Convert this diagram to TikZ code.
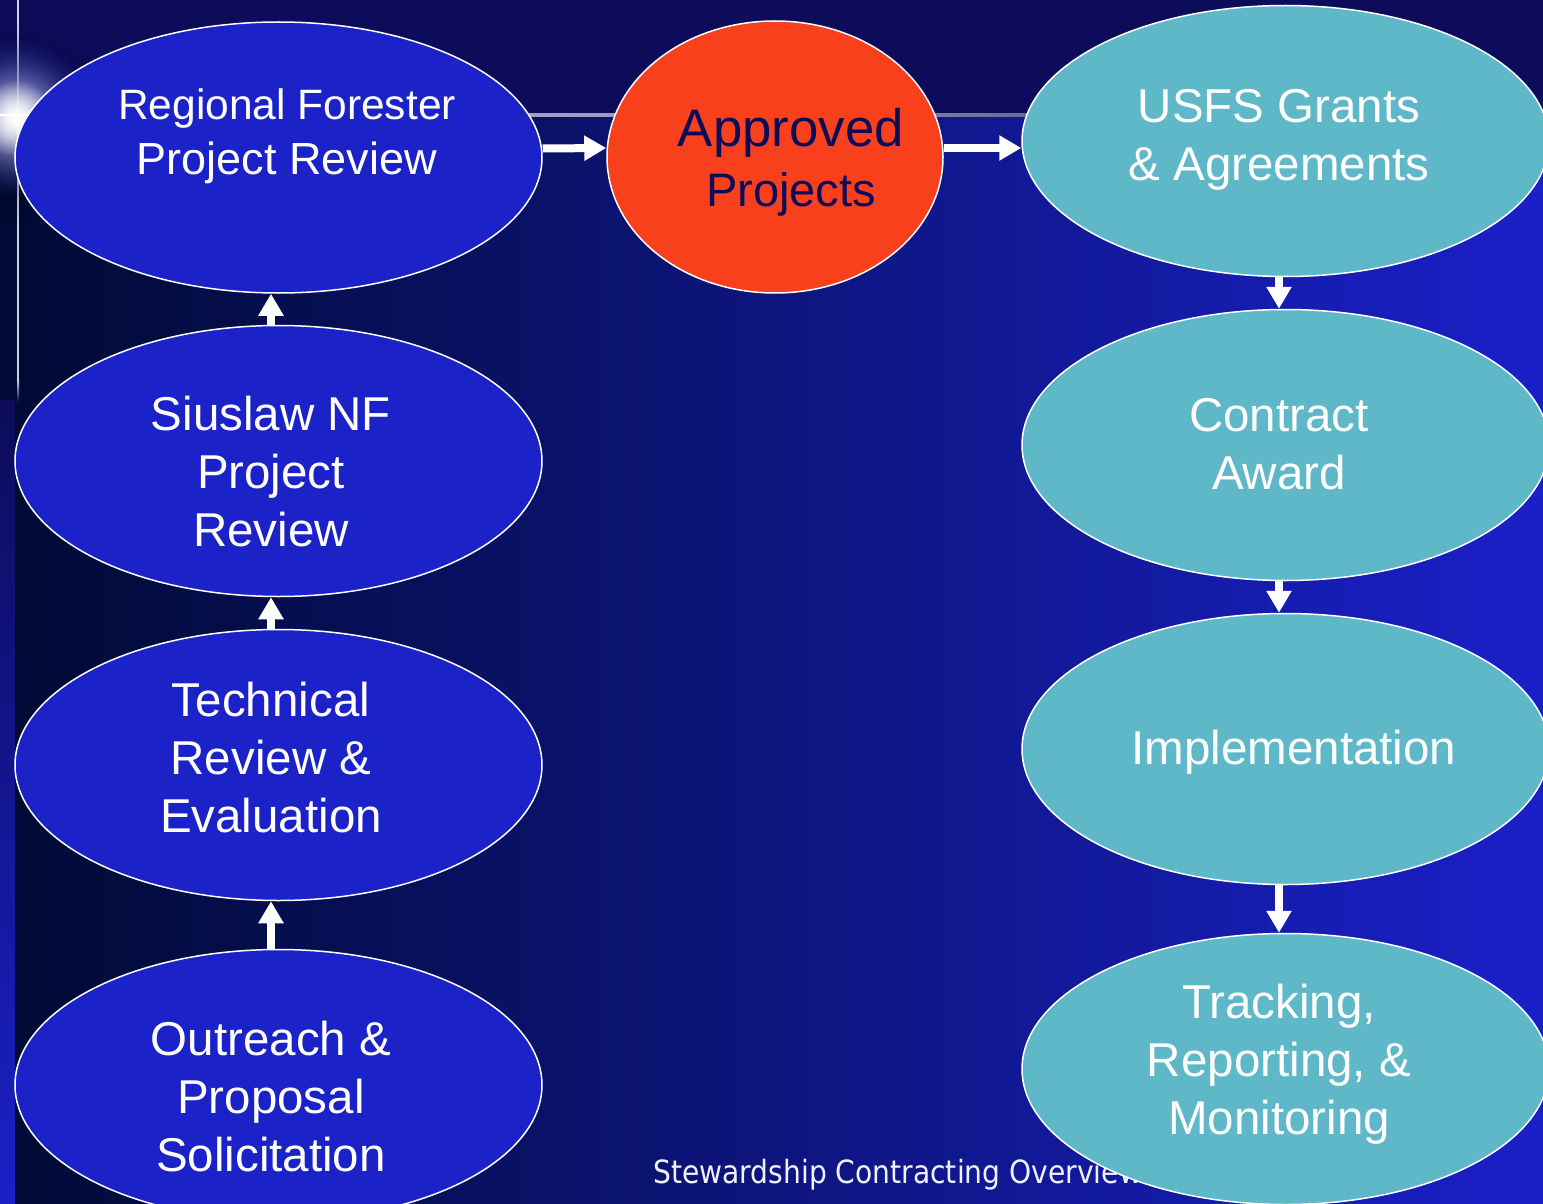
\documentclass[tikz,border=0pt]{standalone}
\usepackage{fontspec}
\setmainfont{Liberation Sans}
\newfontfamily\footfont[FakeStretch=0.88]{DejaVu Sans}
\usetikzlibrary{arrows.meta,shapes.geometric,fadings}
\definecolor{bgL}{HTML}{000A33}
\definecolor{bgR}{HTML}{1A20C8}
\definecolor{topband}{HTML}{0C0C5A}
\definecolor{ovalblue}{HTML}{1A22C8}
\definecolor{ovalorange}{HTML}{F8401C}
\definecolor{ovalcyan}{HTML}{5EB8C8}
\definecolor{navytext}{HTML}{0C0C5A}
\definecolor{linelight}{HTML}{D0D0E0}
\definecolor{linedark}{HTML}{28286E}
\definecolor{glowblue}{HTML}{2A34D8}
\tikzfading[name=glowfade, inner color=transparent!0, outer color=transparent!100]
\begin{document}
\begin{tikzpicture}[x=1pt,y=-1pt,
  oval/.style={ellipse, draw=white, line width=1.5pt, inner sep=0pt,
               minimum width=527pt, minimum height=271pt},
  bluefill/.style={oval, fill=ovalblue},
  cyanfill/.style={oval, fill=ovalcyan},
  orangefill/.style={ellipse, draw=white, line width=1.5pt, inner sep=0pt,
               minimum width=336pt, minimum height=272pt, fill=ovalorange},
  lbl/.style={align=center, text=white, inner sep=0pt},
  lblbig/.style={lbl, font=\fontsize{47.5}{58}\selectfont},
  blockarrow/.style={draw=white, line width=8pt,
               -{Triangle[length=22pt,width=24pt]}}]
\useasboundingbox (0,0) rectangle (1543,1204);
\clip (0,0) rectangle (1543,1204);
% background
\fill[left color=bgL, right color=bgR] (0,0) rectangle (1543,1204);
\fill[topband] (0,0) rectangle (1543,115);
\fill[top color=topband, bottom color=bgR] (0,400) rectangle (15,1204);
\fill[left color=linelight, right color=linedark, middle color=linelight!60!linedark] (0,114) rectangle (1543,116.5);
\fill[linelight] (17,0) rectangle (19,380);
\fill[top color=linelight, bottom color=bgL] (17,380) rectangle (19,402);
% glow
\fill[black!80!bgL, opacity=0.5, path fading=glowfade] (16,125) circle (100);
\shade[inner color=white, outer color=glowblue, path fading=glowfade] (16,118) circle (80);
\fill[white, path fading=glowfade] (16,118) circle (38);
\fill[white] (0,114) rectangle (40,116.5);
% footer
\node[anchor=base west, inner sep=0pt, text=white!94!blue, font=\footfont\fontsize{32}{38}\selectfont] (foot) at (653,1183) {Stewardship Contracting Overview};
% ovals
\node[bluefill] (reg) at (278.5,157.5) {};
\node[bluefill] (sius) at (278.5,461) {};
\node[bluefill] (tech) at (278.5,765) {};
\node[bluefill] (outr) at (278.5,1085) {};
\node[orangefill] (app) at (775,157) {};
\node[cyanfill] (usfs) at (1285.5,141) {};
\node[cyanfill] (cont) at (1285.5,445) {};
\node[cyanfill] (impl) at (1285.5,749) {};
\node[cyanfill] (track) at (1285.5,1069) {};
% labels
\node[lbl, font=\fontsize{42.5}{55}\selectfont] (regT) at (287,136) {Regional Forester\\{\fontsize{45}{55}\selectfont Project Review}};
\node[lblbig] (siusT) at (271,472) {Siuslaw NF\\Project\\Review};
\node[lblbig] (techT) at (271,758) {Technical\\Review \&\\Evaluation};
\node[lblbig] (outrT) at (271,1097) {Outreach \&\\Proposal\\Solicitation};
\node[lbl, text=navytext, font=\fontsize{52.8}{60}\selectfont] (appT) at (791,162) {Approved\\{\fontsize{47}{60}\selectfont Projects}};
\node[lblbig] (usfsT) at (1279,140) {USFS Grants\\\& Agreements};
\node[lblbig] (contT) at (1279,444) {Contract\\Award};
\node[lblbig] (implT) at (1294,752) {Implementation};
\node[lblbig] (trackT) at (1279,1064) {Tracking,\\Reporting, \&\\Monitoring};
% arrows
\draw[blockarrow] ([yshift=9pt]reg.east) -- ([yshift=9pt]app.west);
\draw[blockarrow] ([yshift=9pt]app.east) -- ([yshift=9pt]app.east -| usfs.west);
\draw[blockarrow] ([xshift=-7.5pt]sius.north) -- ([xshift=-7.5pt]reg.south);
\draw[blockarrow] ([xshift=-7.5pt]tech.north) -- ([xshift=-7.5pt]sius.south);
\draw[blockarrow] ([xshift=-7.5pt]outr.north) -- ([xshift=-7.5pt]tech.south);
\draw[blockarrow] ([xshift=-6.5pt]usfs.south) -- ([xshift=-6.5pt]cont.north);
\draw[blockarrow] ([xshift=-6.5pt]cont.south) -- ([xshift=-6.5pt]impl.north);
\draw[blockarrow] ([xshift=-6.5pt]impl.south) -- ([xshift=-6.5pt]track.north);
\end{tikzpicture}
\end{document}
